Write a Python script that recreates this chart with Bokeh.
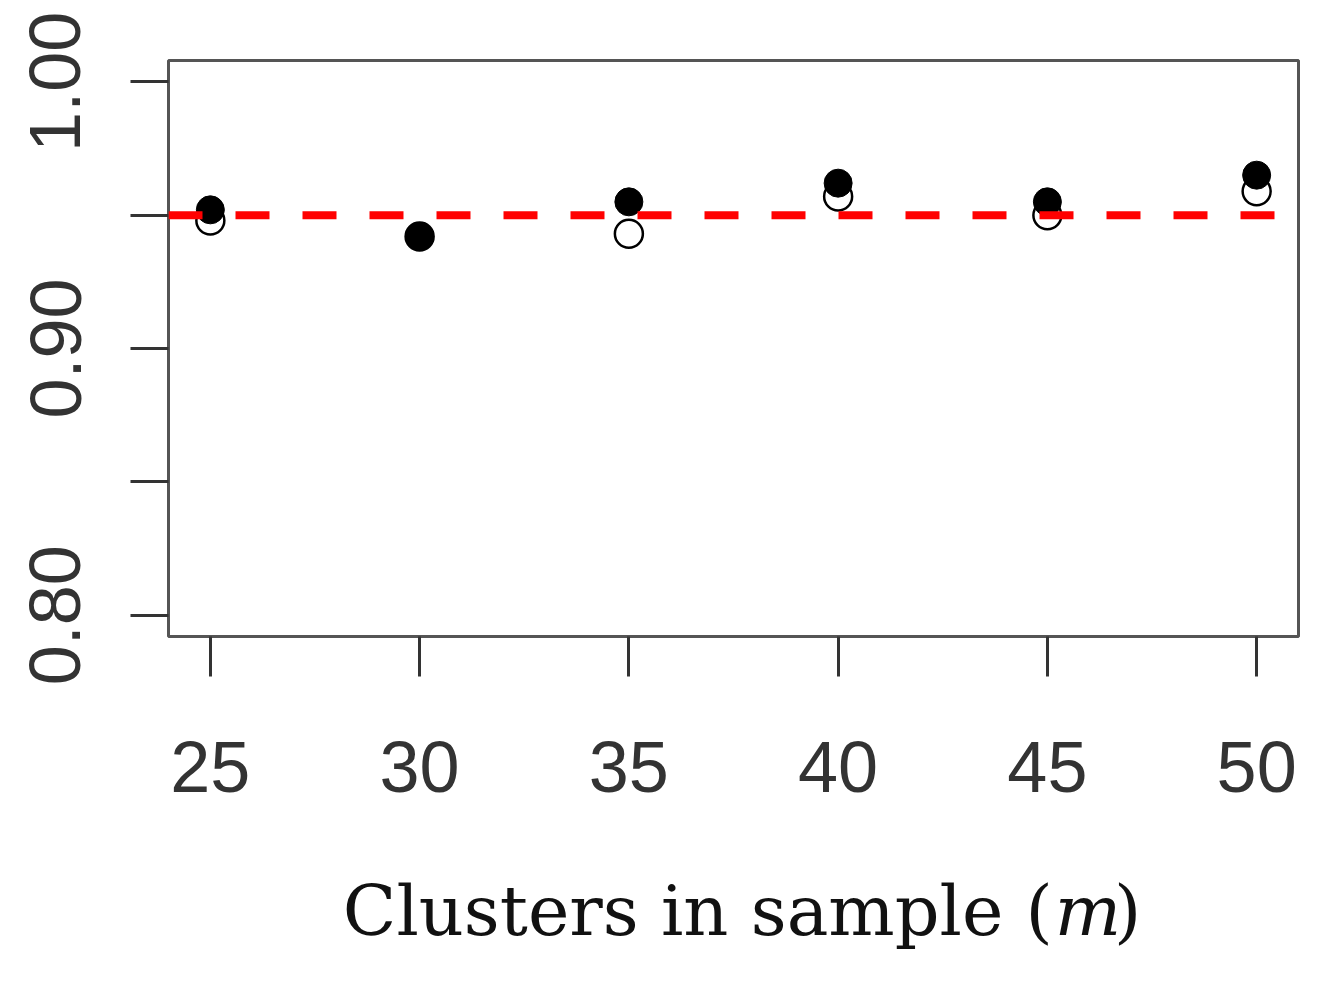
import math
from bokeh.plotting import figure
from bokeh.layouts import column
from bokeh.models import FixedTicker, CustomJSTickFormatter, Span, Range1d
from bokeh.core.properties import value
from bokeh.embed import file_html
from bokeh.resources import INLINE

# ---- data ----
clusters = [25, 30, 35, 40, 45, 50]
coverage_filled = [0.952, 0.942, 0.955, 0.962, 0.955, 0.965]
coverage_open = [0.948, 0.942, 0.943, 0.957, 0.950, 0.959]
nominal = 0.95
x_ticks = [25, 30, 35, 40, 45, 50]
y_ticks = [0.80, 0.85, 0.90, 0.95, 1.00]
title_parts = ["Clusters in sample (", "m", ")"]

W = 1316
p = figure(width=W, height=836, output_backend="svg", toolbar_location=None,
           x_range=Range1d(24, 51), y_range=Range1d(0.792, 1.008),
           min_border_left=168, min_border_top=60, min_border_right=W - 1298,
           min_border_bottom=200)
p.background_fill_color = "white"
p.border_fill_color = "white"
p.grid.visible = False
p.outline_line_color = "#555555"
p.outline_line_width = 3

for ax in (p.xaxis[0], p.yaxis[0]):
    ax.axis_line_color = None
    ax.major_tick_in = 0
    ax.minor_tick_line_color = None
    ax.major_tick_line_color = "#333333"
    ax.major_tick_line_width = 3
    ax.major_label_text_font = "Liberation Sans"
    ax.major_label_text_font_size = "72px"
    ax.major_label_text_color = "#333333"

p.xaxis.ticker = FixedTicker(ticks=x_ticks)
p.xaxis.major_tick_out = 40
p.xaxis.major_label_standoff = 65

p.yaxis.ticker = FixedTicker(ticks=y_ticks)
p.yaxis.major_tick_out = 38
p.yaxis.major_label_standoff = 50
p.yaxis.major_label_orientation = "parallel"
p.yaxis.formatter = CustomJSTickFormatter(code="""
    if (Math.abs(tick - 0.85) < 1e-6 || Math.abs(tick - 0.95) < 1e-6) { return ''; }
    return tick.toFixed(2);
""")

p.add_layout(Span(location=nominal, dimension="width", line_color="#ff0000",
                  line_width=8, line_dash="34 33"))

p.scatter(clusters, coverage_filled, size=28, marker="circle",
          fill_color="black", line_color="black")
p.scatter(clusters, coverage_open, size=28, marker="circle",
          fill_alpha=0, line_color="black", line_width=2.5)

# ---- x axis title (with italic m) in a strip below ----
H2 = 150
t = figure(width=W, height=H2, output_backend="svg", toolbar_location=None,
           x_range=Range1d(0, W), y_range=Range1d(0, H2),
           min_border=0, min_border_left=0, min_border_right=0,
           min_border_top=0, min_border_bottom=0)
t.axis.visible = False
t.grid.visible = False
t.outline_line_color = None
t.background_fill_color = "white"
t.border_fill_color = "white"

font = value("DejaVu Serif")
fs = value("70px")
base_y = 76
x_paren = 1030
t.text(x=[x_paren], y=[base_y], text=[title_parts[0]], text_align="right",
       text_baseline="alphabetic", text_font=font, text_font_size=fs,
       text_color="#111111")
t.text(x=[x_paren + 2], y=[base_y], text=[title_parts[1]], text_align="left",
       text_baseline="alphabetic", text_font=font, text_font_size=fs,
       text_font_style="italic", text_color="#111111")
t.text(x=[x_paren + 71], y=[base_y], text=[title_parts[2]], text_align="left",
       text_baseline="alphabetic", text_font=font, text_font_size=fs,
       text_color="#111111")

layout = column(p, t, spacing=0)
open("out.html", "w").write(file_html(layout, INLINE))
